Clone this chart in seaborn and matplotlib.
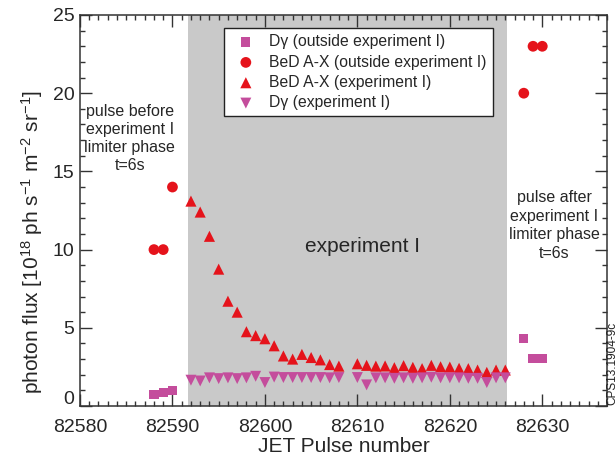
import matplotlib
matplotlib.use("Agg")
import matplotlib.pyplot as plt
from matplotlib.ticker import MultipleLocator, FixedLocator, FixedFormatter
from matplotlib.transforms import ScaledTranslation
import pandas as pd
import seaborn as sns

# JET pulse numbers and photon fluxes [1e18 ph s^-1 m^-2 sr^-1]
dgamma_out_pulse = [82588, 82589, 82590, 82628, 82629, 82630]
dgamma_out_flux = [0.75, 0.85, 1.0, 4.3, 3.05, 3.05]

bed_out_pulse = [82588, 82589, 82590, 82628, 82629, 82630]
bed_out_flux = [10.0, 10.0, 14.0, 20.0, 23.0, 23.0]

exp_pulse = [82592, 82593, 82594, 82595, 82596, 82597, 82598, 82599, 82600,
             82601, 82602, 82603, 82604, 82605, 82606, 82607, 82608,
             82610, 82611, 82612, 82613, 82614, 82615, 82616, 82617, 82618,
             82619, 82620, 82621, 82622, 82623, 82624, 82625, 82626]
bed_exp_flux = [13.1, 12.4, 10.85, 8.75, 6.7, 6.0, 4.75, 4.5, 4.3,
                3.85, 3.2, 3.0, 3.3, 3.1, 2.95, 2.65, 2.55,
                2.7, 2.6, 2.55, 2.56, 2.45, 2.58, 2.47, 2.39, 2.6,
                2.51, 2.49, 2.41, 2.39, 2.3, 2.15, 2.3, 2.3]
dgamma_exp_flux = [1.65, 1.6, 1.8, 1.75, 1.8, 1.75, 1.8, 1.9, 1.5,
                   1.85, 1.82, 1.82, 1.82, 1.82, 1.82, 1.8, 1.82,
                   1.82, 1.35, 1.8, 1.8, 1.77, 1.8, 1.77, 1.8, 1.84,
                   1.8, 1.8, 1.8, 1.77, 1.77, 1.5, 1.8, 1.8]

series_labels = ["D\u03b3 (outside experiment I)",
                 "BeD A-X (outside experiment I)",
                 "BeD A-X (experiment I)",
                 "D\u03b3 (experiment I)"]

experiment_window = (82591.7, 82626.15)
x_ticks = [82580, 82590, 82600, 82610, 82620, 82630]
x_tick_labels = ["82580", "82590", "82600", "82610", "82620", "82630"]
y_ticks = [0, 5, 10, 15, 20, 25]
y_tick_labels = ["0", "5", "10", "15", "20", "25"]

RED = "#e5131b"
PINK = "#c44d9c"
SHADE = "#c9c9c9"

sns.set_style("ticks")
plt.rcParams["font.family"] = ["Liberation Sans", "DejaVu Sans"]
plt.rcParams["mathtext.default"] = "regular"

fig = plt.figure(figsize=(6.16, 4.58), dpi=100)
ax = fig.add_axes([80 / 616, 52 / 458, 527 / 616, 391 / 458])
ax.set_facecolor("white")

ax.axvspan(*experiment_window, color=SHADE, lw=0, zorder=0)

frames = [
    pd.DataFrame({"pulse": dgamma_out_pulse, "flux": dgamma_out_flux}),
    pd.DataFrame({"pulse": bed_out_pulse, "flux": bed_out_flux}),
    pd.DataFrame({"pulse": exp_pulse, "flux": bed_exp_flux}),
    pd.DataFrame({"pulse": exp_pulse, "flux": dgamma_exp_flux}),
]
styles = [("s", PINK, 44), ("o", RED, 60), ("^", RED, 64), ("v", PINK, 62)]

for df, (mk, col, size), lab in zip(frames, styles, series_labels):
    sns.scatterplot(data=df, x="pulse", y="flux", marker=mk, color=col, s=size,
                    linewidth=0, edgecolor="none", label=lab, ax=ax, zorder=3)

ax.set_xlim(82580, 82637)
ax.set_ylim(0, 25)
ax.xaxis.set_major_locator(FixedLocator(x_ticks))
ax.xaxis.set_major_formatter(FixedFormatter(x_tick_labels))
ax.xaxis.set_minor_locator(MultipleLocator(1))
ax.yaxis.set_major_locator(FixedLocator(y_ticks))
ax.yaxis.set_major_formatter(FixedFormatter(y_tick_labels))
ax.yaxis.set_minor_locator(MultipleLocator(1))

ax.tick_params(which="both", direction="in", top=True, right=True,
               color="#333333", width=1.0)
ax.tick_params(which="major", length=8.5, labelsize=14)
ax.tick_params(which="minor", length=3.5)
ax.tick_params(axis="x", which="major", pad=9)
ax.tick_params(axis="y", which="major", pad=4)
for sp in ax.spines.values():
    sp.set_color("#333333")
    sp.set_linewidth(1.1)

# lift the "0" label clear of the x tick labels
zero_label = ax.yaxis.get_major_ticks()[0].label1
zero_label.set_transform(zero_label.get_transform()
                         + ScaledTranslation(0, 0.08, fig.dpi_scale_trans))

ax.set_xlabel("JET Pulse number", fontsize=15, labelpad=1)
ax.set_ylabel(r"photon flux [10$^{18}$ ph s$^{-1}$ m$^{-2}$ sr$^{-1}$]",
              fontsize=15)
ax.yaxis.set_label_coords(-0.066, 0.42)

handles, labels = ax.get_legend_handles_labels()
leg = ax.legend(handles, labels, loc="upper left",
                bbox_to_anchor=(0.273, 0.967), frameon=True, fancybox=False,
                framealpha=1, edgecolor="#222222", facecolor="white",
                fontsize=11.3, handlelength=2.0, handletextpad=0.5,
                labelspacing=0.34, borderpad=0.4, borderaxespad=0)
leg.get_frame().set_linewidth(1.0)

ax.text(82585.4, 17.1, "pulse before\nexperiment I\nlimiter phase\nt=6s",
        ha="center", va="center", fontsize=11.5, linespacing=1.25)
ax.text(82610.55, 10.17, "experiment I", ha="center", va="center",
        fontsize=15)
ax.text(82631.3, 11.55, "pulse after\nexperiment I\nlimiter phase\nt=6s",
        ha="center", va="center", fontsize=11.5, linespacing=1.3)

fig.text(612 / 616, 53 / 458, "CPS13.1904-9c", rotation=90,
         ha="center", va="bottom", fontsize=8.5, color="#222222")

fig.savefig("out.png", dpi=100)
